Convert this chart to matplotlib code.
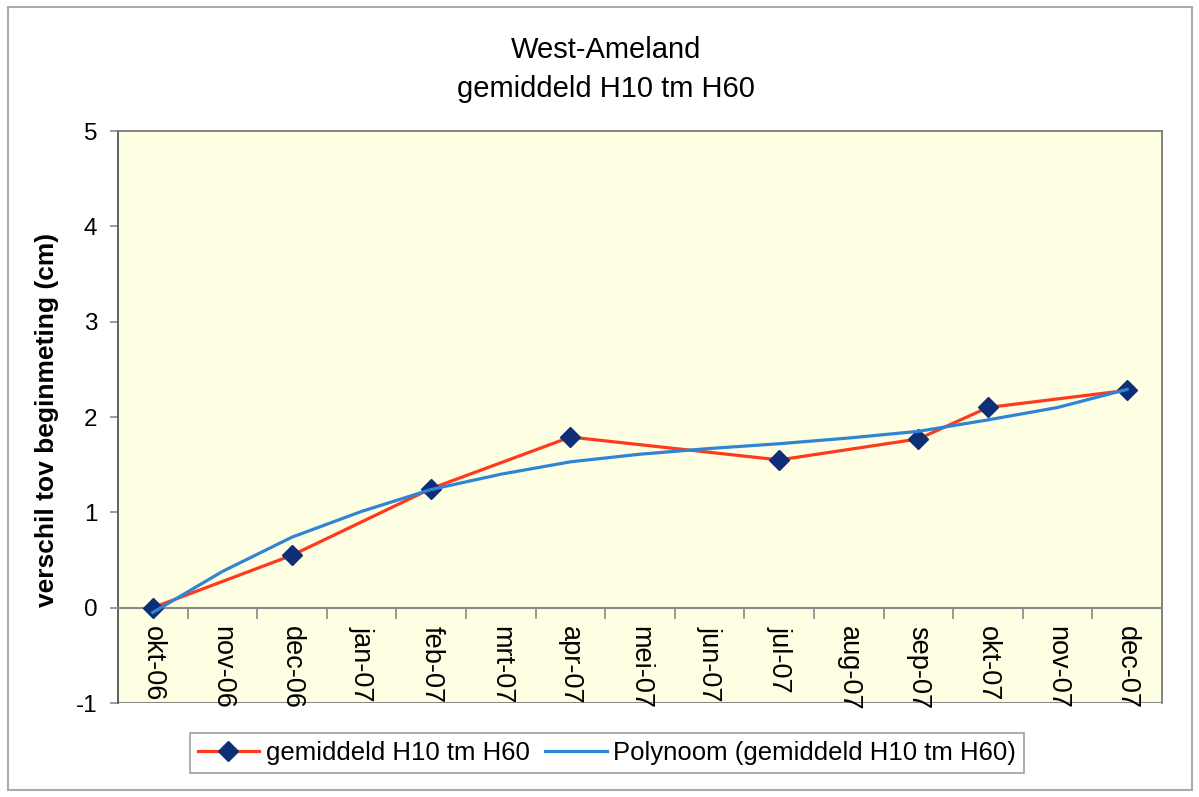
import numpy as np
import matplotlib.pyplot as plt
from matplotlib.patches import Rectangle

plt.rcParams['font.family'] = ['Liberation Sans', 'DejaVu Sans']
plt.rcParams['axes.unicode_minus'] = False

# Months on the category axis
months = ["okt-06", "nov-06", "dec-06", "jan-07", "feb-07", "mrt-07", "apr-07",
          "mei-07", "jun-07", "jul-07", "aug-07", "sep-07", "okt-07", "nov-07", "dec-07"]

# Measured averages (month index, value)
meas_idx = [0, 2, 4, 6, 9, 11, 12, 14]
meas_val = [0.0, 0.55, 1.25, 1.79, 1.55, 1.77, 2.10, 2.28]

# Polynomial trend line at each month
trend_val = [-0.05, 0.38, 0.74, 1.01, 1.24, 1.40, 1.53, 1.61, 1.67, 1.72,
             1.78, 1.85, 1.97, 2.10, 2.29]

series_label = "gemiddeld H10 tm H60"
trend_label = "Polynoom (gemiddeld H10 tm H60)"

fig = plt.figure(figsize=(11.99, 7.97), dpi=100)
ax = fig.add_axes([0.0984, 0.1179, 0.8707, 0.7177])
ax.set_facecolor('#FEFEE3')

x_idx = np.arange(len(months))
ax.plot(meas_idx, meas_val, color='#FF3A1C', linewidth=2.3, marker='D',
        markersize=10, markerfacecolor='#0E2F78', markeredgecolor='#0E2F78',
        label=series_label, zorder=3)
ax.plot(x_idx, trend_val, color='#2F84D4', linewidth=2.3, label=trend_label, zorder=4)

ax.set_xlim(-0.5, len(months) - 0.5)
ax.set_ylim(-1, 5)

# category axis crosses at y = 0
ax.spines['bottom'].set_position(('data', 0))
ax.spines['bottom'].set_color('#8A8A8A')
ax.spines['bottom'].set_linewidth(1.5)
ax.axhline(-1, color='#8A8A8A', linewidth=1.5, zorder=1)
for s in ['left', 'right', 'top']:
    ax.spines[s].set_color('#7A7A7A')
    ax.spines[s].set_linewidth(1.3)
ax.spines['left'].set_color('#555555')

ax.set_xticks(x_idx)
ax.set_xticklabels(months, rotation=-90, fontsize=19.5)
ax.set_xticks(np.arange(0.5, len(months) - 1, 1.0), minor=True)
ax.tick_params(axis='x', which='major', length=0, pad=13)
ax.tick_params(axis='x', which='minor', length=8, width=1.2, color='#8A8A8A')

ax.set_yticks(np.arange(-1, 6, 1))
ax.tick_params(axis='y', labelsize=17.5, length=6, width=1.2, color='#8A8A8A', pad=9)

fig.text(0.039, 0.473, "verschil tov beginmeting (cm)", rotation=90, ha='center',
         va='center', fontsize=19, fontweight='bold')

fig.text(0.5055, 0.9272, "West-Ameland", ha='center', va='baseline', fontsize=21)
fig.text(0.5055, 0.8783, "gemiddeld H10 tm H60", ha='center', va='baseline', fontsize=21)

leg = fig.legend(loc='center', bbox_to_anchor=(0.506, 0.055), ncol=2, fontsize=18.5,
                 frameon=True, fancybox=False, handlelength=2.4, handletextpad=0.25,
                 columnspacing=0.6, borderpad=0.3)
leg.get_frame().set_edgecolor('#888888')
leg.get_frame().set_linewidth(1.2)

# outer chart border
fig.patches.append(Rectangle((0.007, 0.009), 0.987, 0.982, transform=fig.transFigure,
                             fill=False, edgecolor='#AAAAAA', linewidth=1.5))

fig.savefig('out.png', dpi=100)
